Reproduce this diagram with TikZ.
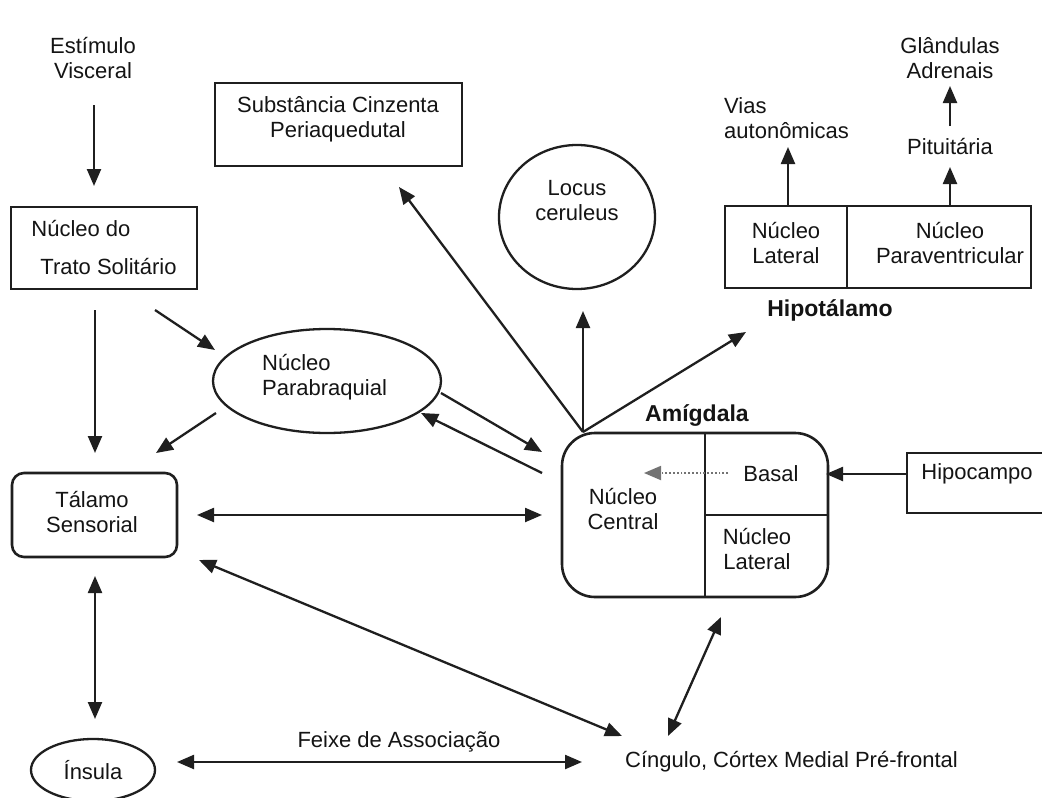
\documentclass[tikz,border=0pt]{standalone}
\usepackage{fontspec}
\setmainfont{Liberation Sans}
\usetikzlibrary{arrows.meta,shapes.geometric}
\begin{document}
\begin{tikzpicture}[x=1pt,y=-1pt,
  every node/.style={font=\fontsize{22}{25}\selectfont, inner sep=0pt, text=black!92},
  txt/.style={align=center},
  boldtxt/.style={font=\fontsize{23}{25}\selectfont\bfseries},
  box/.style={draw=black!88, line width=2.6pt, rectangle},
  oval/.style={draw=black!88, line width=2.3pt, ellipse},
  arr/.style={draw=black!88, line width=2.3pt, -{Triangle[length=17pt,width=14pt]}},
  darr/.style={draw=black!88, line width=2.3pt, {Triangle[length=17pt,width=14pt]}-{Triangle[length=17pt,width=14pt]}},
  dotarr/.style={draw=black!55, line width=1.8pt, dotted, -{Triangle[length=17pt,width=14pt]}},
]
\useasboundingbox (0,0) rectangle (1042,798);
\fill[white] (0,0) rectangle (1042,798);

% ---------- boxes and shapes ----------
\node[txt] (est) at (93,58) {Estímulo\\Visceral};

\node[box, minimum width=186pt, minimum height=82pt, align=left] (nts) at (104,248)
  {Núcleo do\\[13pt]\hspace*{9pt}Trato Solitário};

\node[box, minimum width=247pt, minimum height=83pt] (subst) at (338.5,124.5) {};
\node[txt] (substT) at (338,119) {Substância Cinzenta\\Periaquedutal};

\node[oval, minimum width=156pt, minimum height=144pt] (locus) at (577,217) {};
\node[txt] (locusT) at (577,200.5) {Locus\\ceruleus};

\node[box, minimum width=122pt, minimum height=82pt] (hypL) at (786,247) {};
\node[box, minimum width=184pt, minimum height=82pt] (hypP) at (939,247) {};
\node[txt] (hypLT) at (786,243.5) {Núcleo\\Lateral};
\node[txt] (hypPT) at (950,243.5) {Núcleo\\Paraventricular};
\node[boldtxt] (hipot) at (830,310) {Hipotálamo};

\node[align=left, anchor=west] (vias) at (724,118.5) {Vias\\autonômicas};
\node[txt] (pit) at (950,147) {Pituitária};
\node[txt] (gland) at (950,58.5) {Glândulas\\Adrenais};

\node[box, rounded corners=33pt, minimum width=266pt, minimum height=164pt] (amyg) at (695,515) {};
\draw[draw=black!88, line width=2.6pt] (705,433) -- (705,597);
\draw[draw=black!88, line width=2.6pt] (705,515) -- (828,515);
\node[boldtxt] (amygT) at (697,415) {Amígdala};
\node (basal) at (771,474) {Basal};
\node[txt] (central) at (623,509) {Núcleo\\Central};
\node[txt] (amygLat) at (757,549.5) {Núcleo\\Lateral};

\node[box, minimum width=153pt, minimum height=60pt] (hipo) at (983.5,483) {};
\node (hipoT) at (977,474) {Hipocampo};

\node[box, rounded corners=12pt, minimum width=165pt, minimum height=84pt] (tal) at (94.5,515) {};
\node[txt] (talT) at (92,512) {Tálamo\\Sensorial};

\node[oval, minimum width=228pt, minimum height=104pt] (parab) at (327,381) {};
\node[align=left, anchor=west] (parabT) at (262,377.5) {Núcleo\\Parabraquial};

\node[oval, minimum width=124pt, minimum height=62pt] (insula) at (93,770) {Ínsula};

\node (feixe) at (399,742) {Feixe de Associação};
\node[anchor=west] (cing) at (625,762) {Cíngulo, Córtex Medial Pré-frontal};

% ---------- connector end points ----------
\coordinate (estS) at (94,105);   \coordinate (ntsN) at (94,186);
\coordinate (ntsS) at (95,310);   \coordinate (talN) at (95,453);
\coordinate (ntsSE) at (155,310); \coordinate (parabNW) at (215,350);
\coordinate (parabSW) at (216,413); \coordinate (talNE) at (156,453);
\coordinate (parabE) at (441,393); \coordinate (amygW1) at (542,452);
\coordinate (amygW2) at (542,473); \coordinate (parabSE) at (421,413);
\coordinate (talE) at (197,515);  \coordinate (amygW3) at (542,515);
\coordinate (talSE) at (199,560); \coordinate (cingNW) at (622,736);
\coordinate (talS) at (95,576);   \coordinate (insN) at (95,719);
\coordinate (insE) at (177,762);  \coordinate (cingW) at (582,762);
\coordinate (amygS) at (721,617); \coordinate (cingN) at (668,736);
\coordinate (amygTL) at (583,432);
\coordinate (substS) at (399,187);
\coordinate (locusS) at (583,311);
\coordinate (hypSW) at (746,332);
\coordinate (hipoW) at (907,474); \coordinate (amygE) at (826,474);
\coordinate (basalW) at (728,473); \coordinate (centralN) at (644,473);
\coordinate (hypLN) at (788,206); \coordinate (viasS) at (788,147);
\coordinate (hypPN) at (950,206); \coordinate (pitS) at (950,167);
\coordinate (pitN) at (950,126);  \coordinate (glandS) at (950,86);

% ---------- connectors ----------
\draw[arr] (estS) -- (ntsN);
\draw[arr] (ntsS) -- (talN);
\draw[arr] (ntsSE) -- (parabNW);
\draw[arr] (parabSW) -- (talNE);
\draw[arr] (parabE) -- (amygW1);
\draw[arr] (amygW2) -- (parabSE);
\draw[darr] (talE) -- (amygW3);
\draw[darr] (talSE) -- (cingNW);
\draw[darr] (talS) -- (insN);
\draw[darr] (insE) -- (cingW);
\draw[darr] (amygS) -- (cingN);
\draw[arr] (amygTL) -- (substS);
\draw[arr] (amygTL) -- (locusS);
\draw[arr] (amygTL) -- (hypSW);
\draw[arr] (hipoW) -- (amygE);
\draw[dotarr] (basalW) -- (centralN);
\draw[arr] (hypLN) -- (viasS);
\draw[arr] (hypPN) -- (pitS);
\draw[arr] (pitN) -- (glandS);
\end{tikzpicture}
\end{document}
